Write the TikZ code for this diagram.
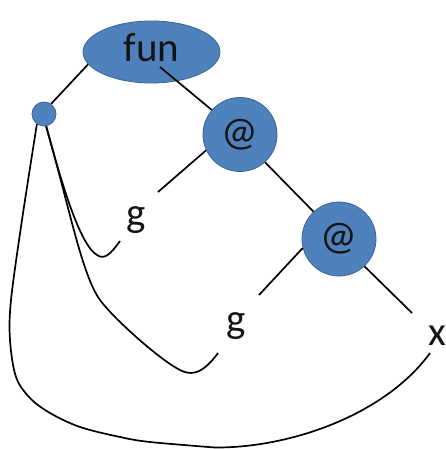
\documentclass[tikz,border=0pt]{standalone}
\usepackage{fontspec}
\setmainfont{Carlito}
\usetikzlibrary{shapes.geometric,calc}
\definecolor{nodefill}{HTML}{4F81BD}
\definecolor{nodeedge}{HTML}{3C6496}
\definecolor{ink}{HTML}{141414}
\begin{document}
\begin{tikzpicture}[x=1pt,y=-1pt,
  every node/.style={text=ink,font=\fontsize{41}{48}\selectfont},
  blob/.style={fill=nodefill,draw=nodeedge,line width=0.8pt,inner sep=0pt},
  appnode/.style={blob,circle,minimum size=74pt},
  leaf/.style={inner sep=0pt},
  link/.style={line width=1.7pt,draw=black}]
\useasboundingbox (0,0) rectangle (446,449);
% nodes
\node[blob,ellipse,minimum width=137pt,minimum height=62pt,text height=30pt,text depth=10pt] (fun) at (151.5,52) {fun};
\node[blob,circle,minimum size=24pt] (c) at (44,114) {};
\node[appnode] (a1) at (240,134.5) {@};
\node[appnode] (a2) at (339,239) {@};
\node[leaf] (g1) at (136,220) {g};
\node[leaf] (g2) at (236,326) {g};
\node[leaf] (x) at (437,336) {x};
% free ends
\coordinate (funout) at (160,67);
\coordinate (g1a) at (158,192);
\coordinate (g1b) at (120,241);
\coordinate (g2a) at (259,295);
\coordinate (g2b) at (218,353);
\coordinate (xa) at (412,313);
\coordinate (xb) at (430,353);
% tree edges
\draw[link] (fun.191) -- (c.55);
\draw[link] (funout) -- (a1.139);
\draw[link] (a1.205) -- (g1a);
\draw[link] (a1.312) -- (a2.133);
\draw[link] (a2.194) -- (g2a);
\draw[link] (a2.313) -- (xa);
% back links
\draw[link] (c.280) .. controls (62,185) and (80,245) .. (97,255)
   .. controls (104,260) and (110,255) .. (g1b);
\draw[link] (c.280) .. controls (70,210) and (82,275) .. (100,300)
   .. controls (114,319) and (160,360) .. (180,370)
   .. controls (188,374) and (200,378) .. (g2b);
\draw[link] plot[smooth,tension=0.55] coordinates {(c.235) (22,220) (11,300) (10,340)
   (16,377) (30,398) (50,413) (80,427) (120,437) (150,442) (215,447.5)}
   .. controls (290,448) and (385,415) .. (xb);
\end{tikzpicture}
\end{document}
